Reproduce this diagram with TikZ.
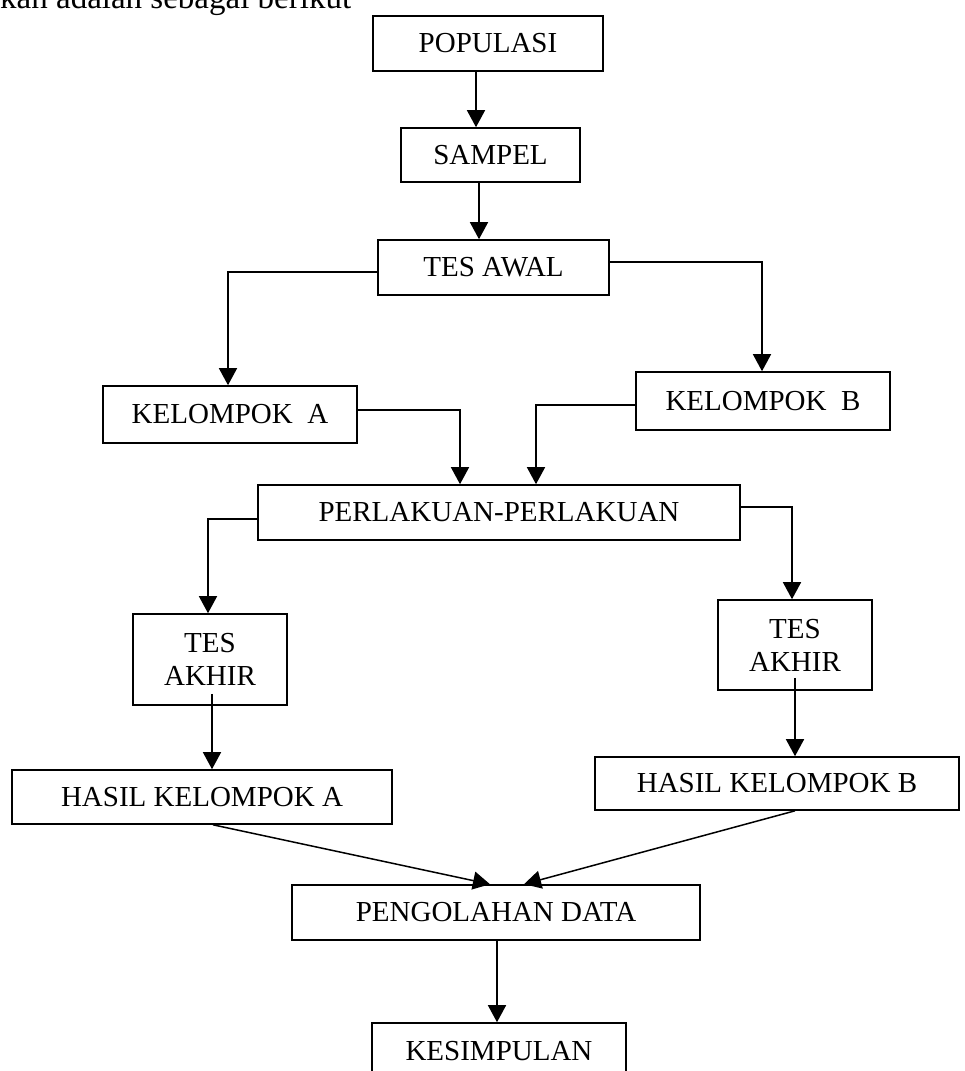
\documentclass[tikz,border=0pt]{standalone}
\usepackage{fontspec}
\setmainfont{Liberation Serif}
\usetikzlibrary{arrows.meta,calc}
\begin{document}
\begin{tikzpicture}[x=1pt,y=-1pt,
  box/.style={draw,line width=1.6pt,inner sep=0pt,font=\fontsize{29}{33}\selectfont,align=center},
  arr/.style={line width=1.5pt,-{Triangle[width=18pt,length=17pt]}},
  lead/.style={font=\fontsize{33}{38}\selectfont}]
\useasboundingbox (0,0) rectangle (964,1071);
\clip (0,0) rectangle (964,1071);

% cut-off running text at top
\node[lead,anchor=base west,inner sep=0pt] (lead) at (0,8) {kan adalah sebagai berikut};

% boxes
\node[box,minimum width=230pt,minimum height=55pt] (pop)  at (488,43.5) {POPULASI};
\node[box,minimum width=179pt,minimum height=54pt] (samp) at (490.5,155) {SAMPEL};
\node[box,minimum width=231pt,minimum height=55pt] (awal) at (493.5,267.5) {TES AWAL};
\node[box,minimum width=254pt,minimum height=57pt] (ka)   at (230,414.5) {KELOMPOK~~A};
\node[box,minimum width=254pt,minimum height=58pt] (kb)   at (763,401) {KELOMPOK~~B};
\node[box,minimum width=482pt,minimum height=55pt] (perl) at (499,512.5) {PERLAKUAN-PERLAKUAN};
\node[box,minimum width=154pt,minimum height=91pt] (ta)   at (210,659.5) {TES\\AKHIR};
\node[box,minimum width=154pt,minimum height=90pt] (tb)   at (795,645) {TES\\AKHIR};
\node[box,minimum width=380pt,minimum height=54pt] (ha)   at (202,797) {HASIL KELOMPOK A};
\node[box,minimum width=364pt,minimum height=53pt] (hb)   at (777,783.5) {HASIL KELOMPOK B};
\node[box,minimum width=408pt,minimum height=55pt] (peng) at (496,912.5) {PENGOLAHAN DATA};
\node[box,minimum width=254pt,minimum height=56pt] (kes)  at (499,1051) {KESIMPULAN};

% connectors
\draw[arr] ([xshift=-12pt]pop.south) -- ([xshift=-12pt]pop.south |- samp.north);
\draw[arr] ([xshift=-11.5pt]samp.south) -- ([xshift=-11.5pt]samp.south |- awal.north);
\draw[arr] ([yshift=-4.5pt]awal.west) -| ([xshift=-2pt]ka.north);
\draw[arr] ([yshift=5.5pt]awal.east) -| ([xshift=-1pt]kb.north);
\draw[arr] ([yshift=4.5pt]ka.east) -| ([xshift=-39pt]perl.north);
\draw[arr] ([yshift=-4pt]kb.west) -| ([xshift=37pt]perl.north);
\draw[arr] ([yshift=-6.5pt]perl.west) -| ([xshift=-2pt]ta.north);
\draw[arr] ([yshift=5.5pt]perl.east) -| ([xshift=-3pt]tb.north);
\draw[arr] ([xshift=2pt,yshift=12pt]ta.south) -- ([xshift=2pt]ta.south |- ha.north);
\draw[arr] ([yshift=13pt]tb.south) -- (tb.south |- hb.north);
\draw[arr] ([xshift=11pt]ha.south) -- ([xshift=-6pt]peng.north);
\draw[arr] ([xshift=18pt]hb.south) -- ([xshift=28pt]peng.north);
\draw[arr] ([xshift=1pt]peng.south) -- ([xshift=1pt]peng.south |- kes.north);
\end{tikzpicture}
\end{document}
